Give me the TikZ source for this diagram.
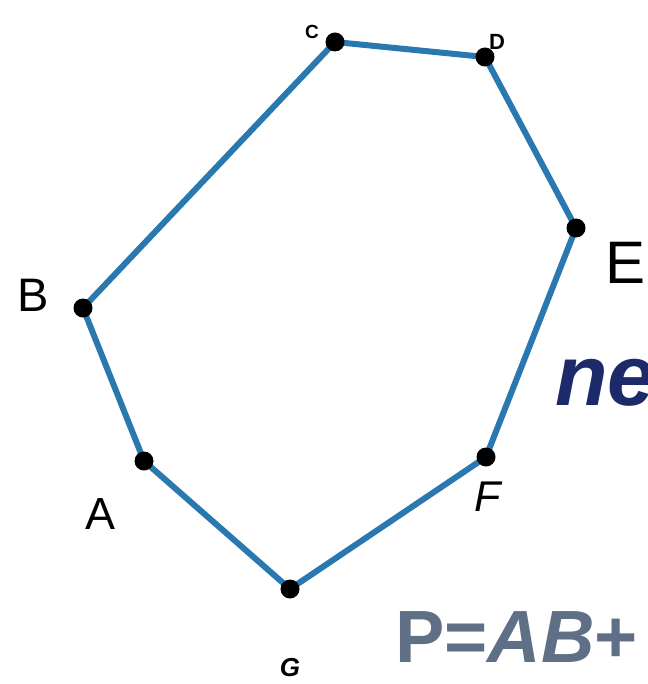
\documentclass[tikz,border=0pt]{standalone}
\usepackage{fontspec}
\setmainfont{Liberation Sans}
\definecolor{edgeblue}{HTML}{2A78B0}
\definecolor{navy}{HTML}{1C2A6A}
\definecolor{slate}{HTML}{5F6F86}
\tikzset{
  vtx/.style={circle,fill=black,inner sep=0pt,minimum size=19pt},
  edge/.style={draw=edgeblue,line width=6pt,line join=round},
  lbl/.style={inner sep=0pt,anchor=center},
}
\newcommand{\fs}[1]{\fontsize{#1}{#1}\selectfont}
\begin{document}
\begin{tikzpicture}[x=1pt,y=-1pt]
\useasboundingbox[fill=white] (0,0) rectangle (647,684);
\coordinate (A) at (144,461);
\coordinate (B) at (83,308);
\coordinate (C) at (335,42);
\coordinate (D) at (485,57);
\coordinate (E) at (576,228);
\coordinate (F) at (486,457);
\coordinate (G) at (290,589);
\draw[edge] (A) -- (B) -- (C) -- (D) -- (E) -- (F) -- (G) -- cycle;
\foreach \p in {A,B,C,D,E,F,G} \node[vtx] (v\p) at (\p) {};
\node[lbl] (lA) at (101,514) {\fs{45}A};
\node[lbl] (lB) at (33,295) {\fs{47}B};
\node[lbl] (lC) at (312,32) {\fs{19}\bfseries C};
\node[lbl] (lD) at (497,42) {\fs{22}\bfseries D};
\node[lbl] (lE) at (625,263) {\fs{60}E};
\node[lbl] (lF) at (488,497) {\fs{43}\itshape F};
\node[lbl] (lG) at (290,668) {\fs{26}\bfseries\itshape G};
\node[lbl,anchor=base west] (ne) at (555,405) {\fs{86}\color{navy}\bfseries\itshape ne};
\node[lbl,anchor=base west] (P) at (395,662) {\fs{74}\color{slate}\bfseries P=\textit{AB}+};
\end{tikzpicture}
\end{document}
